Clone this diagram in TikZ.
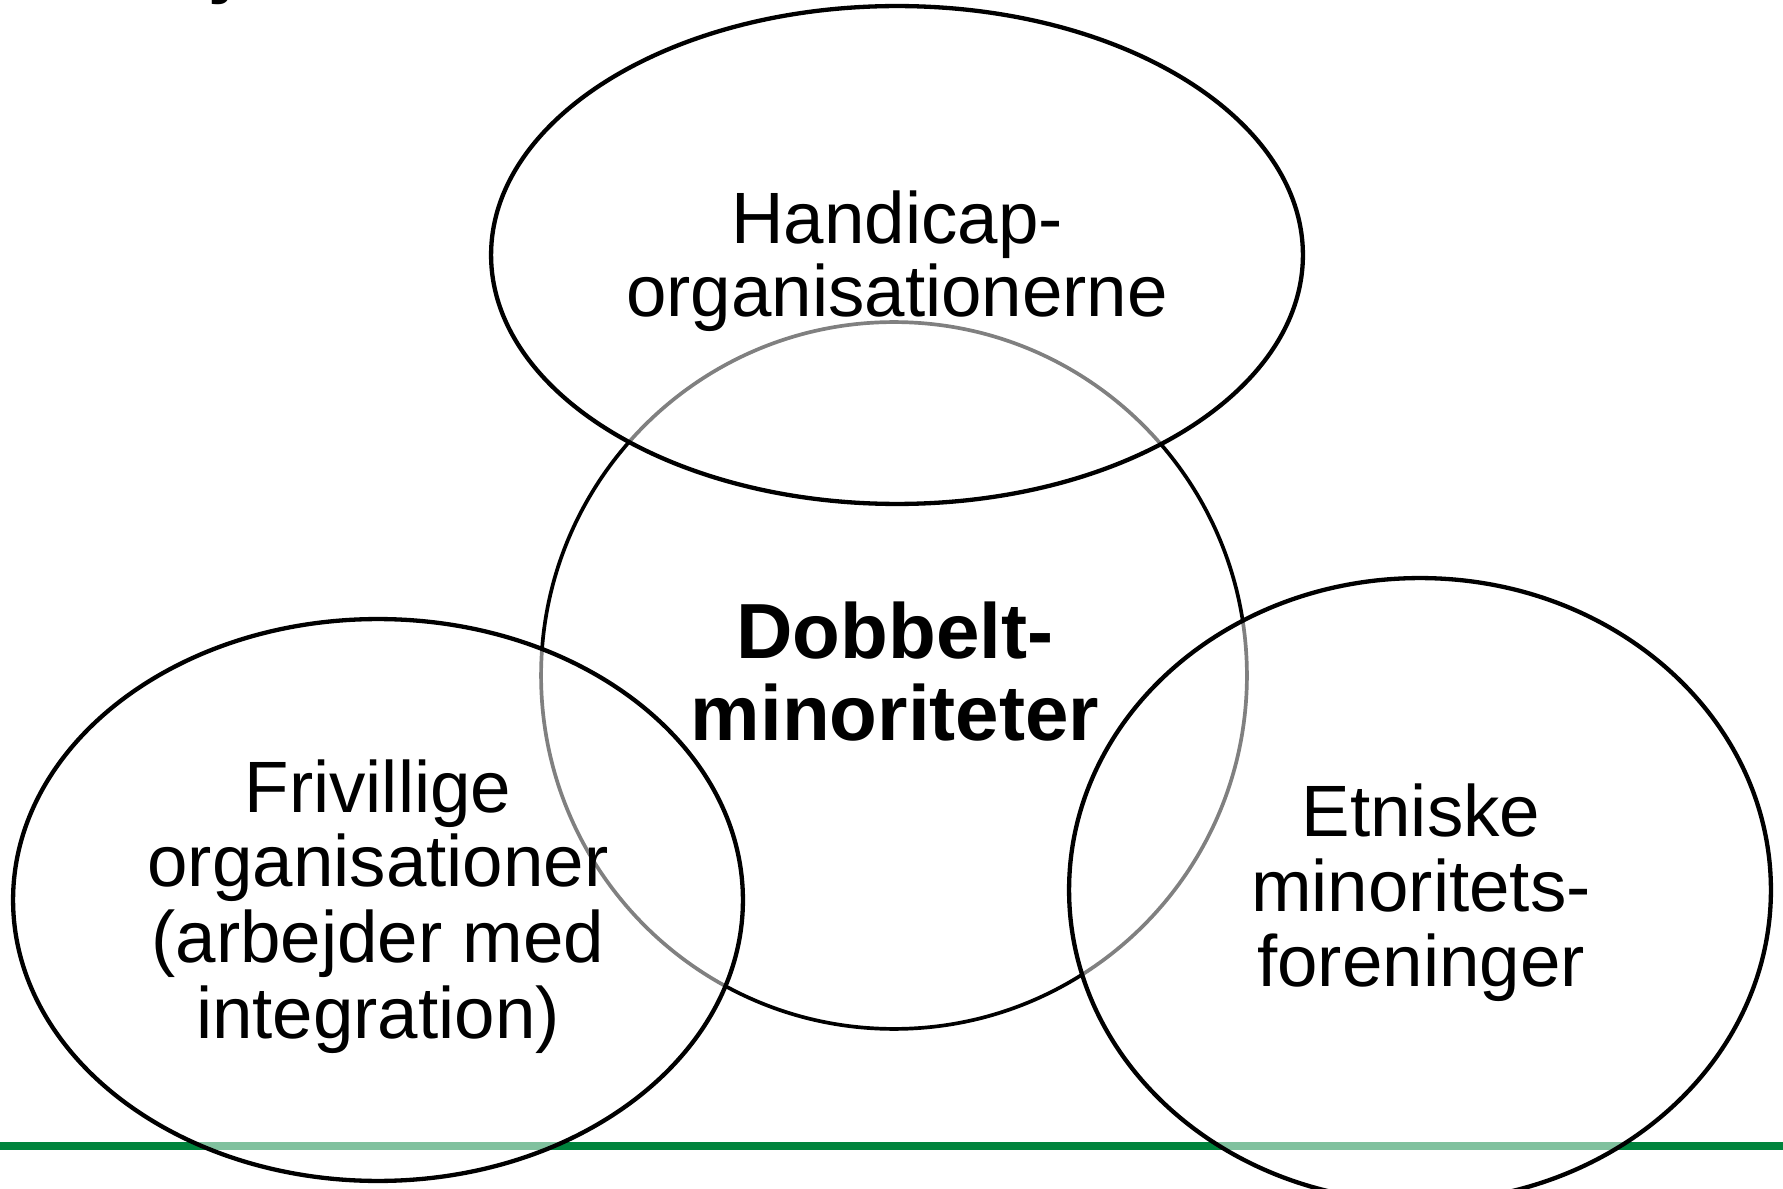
\documentclass[tikz,border=0pt]{standalone}
\usepackage{fontspec}
\setmainfont{Liberation Sans}
\usetikzlibrary{shapes.geometric}
\definecolor{bargreen}{RGB}{0,132,61}
\tikzset{
  bubble/.style={ellipse, draw=black, line width=2.45pt, fill=white, fill opacity=0.5, draw opacity=1, inner sep=0pt, outer sep=0pt},
  ring/.style={ellipse, draw=black, line width=2.1pt, inner sep=0pt, outer sep=0pt},
  lbl/.style={anchor=base, inner sep=0pt, font=\fontsize{41.4}{43}\selectfont},
  blbl/.style={anchor=base, inner sep=0pt, font=\fontsize{44.5}{46}\selectfont\bfseries},
}
\begin{document}
\begin{tikzpicture}[x=0.02cm, y=-0.02cm]
\useasboundingbox (0,0) rectangle (1783,1189);
% title fragment cut off at top
\node[anchor=base west, inner sep=0pt, font=\fontsize{44.5}{46}\selectfont\bfseries] (title) at (213,-11) {j};
% green rule
\coordinate (gl) at (0,1146);
\coordinate (gr) at (1783,1146);
\draw[bargreen, line width=0.16cm] (gl) -- (gr);
% centre circle
\node[ring, minimum width=14.12cm, minimum height=14.14cm] (mid) at (894,675.5) {};
% outer ellipses (translucent white fill greys what lies beneath)
\node[bubble, minimum width=16.24cm, minimum height=9.96cm] (top) at (897,255) {};
\node[bubble, minimum width=14.6cm, minimum height=11.24cm] (left) at (378,900) {};
\node[bubble, minimum width=14.04cm, minimum height=12.48cm] (right) at (1420,890) {};
% labels
\node[lbl] (t1) at (897,244) {Handicap-};
\node[lbl] (t2) at (897,317) {organisationerne};
\node[blbl] (m1) at (895,659) {Dobbelt-};
\node[blbl] (m2) at (895,740) {minoriteter};
\node[lbl] (l1) at (378,812) {Frivillige};
\node[lbl] (l2) at (378,886) {organisationer};
\node[lbl] (l3) at (378,962) {(arbejder med};
\node[lbl] (l4) at (378,1038) {integration)};
\node[lbl] (r1) at (1421,836) {Etniske};
\node[lbl] (r2) at (1421,911) {minoritets-};
\node[lbl] (r3) at (1421,986) {foreninger};
\end{tikzpicture}
\end{document}
